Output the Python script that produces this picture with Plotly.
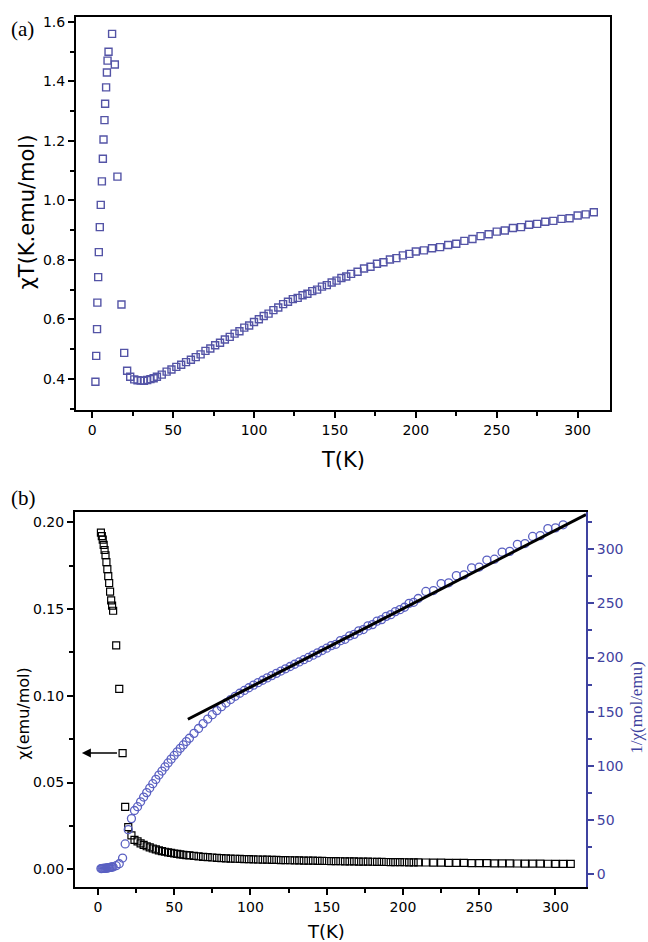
import plotly.graph_objects as go

# ---------------- Panel (a): chiT vs T ----------------
T_a = [2.0, 2.5, 3.0, 3.2, 3.7, 4.1, 4.7, 5.3, 6.0, 6.6, 7.0, 7.6, 8.0, 8.6, 9.1, 9.5, 10.1,
       12.3, 14.0, 15.6, 18.1, 19.8, 21.6, 23.5,
       26, 28, 30, 32, 34, 36, 38, 40, 43, 46, 49, 52, 55, 58, 61, 64, 67, 70, 73, 76, 79,
       82, 85, 88, 91, 94, 97, 100, 103, 106, 109, 112, 115, 118, 121, 124, 127, 130, 133,
       136, 139, 142, 145, 148, 151, 154, 157, 160, 164, 168, 172, 176, 180, 184, 188, 192,
       196, 200, 205, 210, 215, 220, 225, 230, 235, 240, 245, 250, 255, 260, 265, 270, 275,
       280, 285, 290, 295, 300, 305, 310]
chiT_a = [0.390, 0.477, 0.567, 0.656, 0.742, 0.826, 0.910, 0.985, 1.064, 1.140, 1.205, 1.270,
          1.325, 1.380, 1.430, 1.470, 1.500,
          1.560, 1.457, 1.080, 0.650, 0.487, 0.427, 0.407,
          0.398, 0.395, 0.394, 0.393, 0.396, 0.399, 0.402, 0.407, 0.414, 0.424, 0.431, 0.440,
          0.447, 0.456, 0.464, 0.473, 0.482, 0.494, 0.502, 0.513, 0.521,
          0.532, 0.541, 0.552, 0.560, 0.572, 0.579, 0.591, 0.600, 0.611, 0.619, 0.631, 0.640,
          0.651, 0.659, 0.668, 0.672, 0.681, 0.686,
          0.695, 0.700, 0.710, 0.715, 0.724, 0.730, 0.739, 0.744, 0.753, 0.760, 0.771, 0.777,
          0.787, 0.792, 0.801, 0.806, 0.815,
          0.820, 0.828, 0.832, 0.839, 0.843, 0.850, 0.854, 0.864, 0.870, 0.880, 0.886, 0.895,
          0.899, 0.907, 0.910, 0.918, 0.921,
          0.928, 0.931, 0.938, 0.940, 0.949, 0.953, 0.960]

# ---------------- Panel (b): chi and 1/chi vs T ----------------
T_b = [2.0, 2.6, 3.2, 3.8, 4.4, 5.0, 5.6, 6.2, 6.8, 7.4, 8.0, 8.7, 9.3, 10.0,
       12.0, 14.0, 16.2, 17.9, 19.9, 22.0, 24.0,
       26, 28, 30, 32, 34, 36, 38, 40, 42, 44, 46, 48, 50, 52, 54, 56, 58, 60,
       63, 66, 69, 72, 75, 78, 81, 84, 87, 90, 93, 96, 99, 102, 105, 108, 111, 114, 117,
       120, 123, 126, 129, 132, 135, 138, 141, 144, 147, 150, 153, 156, 159, 162, 165, 168,
       171, 174, 177, 180, 183, 186, 189, 192, 195, 198, 201, 204, 207, 210,
       215, 220, 225, 230, 235, 240, 245, 250, 255, 260, 265, 270, 275, 280, 285, 290, 295,
       300, 305, 310]
chi_b = [0.194, 0.192, 0.190, 0.187, 0.184, 0.181, 0.177, 0.173, 0.169, 0.165, 0.160, 0.155,
         0.152, 0.149,
         0.129, 0.104, 0.067, 0.036, 0.0243, 0.0195, 0.0170,
         0.01605, 0.01497, 0.01404, 0.01328, 0.01258, 0.01198, 0.01143, 0.01093, 0.01050,
         0.01010, 0.00974, 0.00942, 0.00912, 0.00886, 0.00861, 0.00838, 0.00817, 0.00797,
         0.00769, 0.00743, 0.00719, 0.00698, 0.00679, 0.00662, 0.00647, 0.00633, 0.00620,
         0.00609, 0.00599, 0.00590, 0.00581, 0.00573, 0.00566, 0.00559, 0.00552, 0.00546,
         0.00539, 0.00533, 0.00527, 0.00522, 0.00516, 0.00511, 0.00505, 0.00500, 0.00495,
         0.00489, 0.00484, 0.00479, 0.00474, 0.00469, 0.00465, 0.00460, 0.00455, 0.00451,
         0.00446, 0.00442, 0.00438, 0.00434, 0.00430, 0.00426, 0.00422, 0.00418, 0.00414,
         0.00410, 0.00407, 0.00403, 0.00400, 0.00396,
         0.00391, 0.00385, 0.00380, 0.00375, 0.00370, 0.00365, 0.00360, 0.00355, 0.00351,
         0.00347, 0.00342, 0.00338, 0.00334, 0.00330, 0.00326, 0.00322, 0.00319, 0.00315,
         0.00311, 0.00308]
inv_chi_b = [5.2, 5.2, 5.3, 5.3, 5.4, 5.5, 5.6, 5.8, 5.9, 6.1, 6.3, 6.5, 6.6, 6.7,
             7.8, 9.6, 14.9, 27.9, 41.1, 51.3, 58.8,
             62.3, 66.8, 71.2, 75.3, 79.5, 83.5, 87.5, 91.5, 95.2, 99.0, 102.7, 106.2, 109.6,
             112.9, 116.2, 119.3, 122.4, 125.5,
             130.0, 134.5, 139.0, 143.2, 147.2, 151.0, 154.6, 158.0, 161.2, 164.2, 167.0,
             169.6, 172.1, 174.5, 176.8, 179.0, 181.2, 183.3, 185.4,
             187.5, 189.6, 191.7, 193.8, 195.9, 198.0, 200.1, 202.2, 204.3, 206.5, 208.6,
             211.0, 212.2, 215.6, 216.8, 220.0, 221.4, 224.6, 225.8, 229.2, 230.4, 233.6,
             235.0, 238.0, 239.6, 242.4, 244.2, 246.4, 250.0, 251.0,
             254.5, 261.0, 261.8, 268.3, 269.0, 275.6, 276.3, 282.8, 283.5, 290.0, 290.8,
             297.3, 298.0, 304.5, 305.2, 311.8, 312.5, 319.0, 319.7, 322.5]

# Curie-Weiss fit line endpoints (T, 1/chi)
fit_T = [59, 320]
fit_inv = [143.0, 332.0]

BLUE_A = "#5454a6"
BLUE_C = "#5a60c2"
BLUE_AX = "#3f43a0"
FONT = "DejaVu Sans"

W, H = 648, 942


def px(x):
    return x / W


def py(y):
    return 1 - y / H


fig = go.Figure()

fig.add_trace(go.Scatter(
    x=T_a, y=chiT_a, mode="markers", xaxis="x", yaxis="y",
    marker=dict(symbol="square-open", size=7, color=BLUE_A, line=dict(width=1.4, color=BLUE_A)),
    showlegend=False))

fig.add_trace(go.Scatter(
    x=T_b, y=inv_chi_b, mode="markers", xaxis="x2", yaxis="y3",
    marker=dict(symbol="circle-open", size=8, color=BLUE_C, line=dict(width=1.3, color=BLUE_C)),
    showlegend=False))

fig.add_trace(go.Scatter(
    x=fit_T, y=fit_inv, mode="lines", xaxis="x2", yaxis="y3",
    line=dict(color="black", width=3), showlegend=False))

fig.add_trace(go.Scatter(
    x=T_b, y=chi_b, mode="markers", xaxis="x2", yaxis="y2",
    marker=dict(symbol="square-open", size=7, color="black", line=dict(width=1.2, color="black")),
    showlegend=False))

tickfont = dict(family=FONT, size=14, color="black")


def xax(domain, anchor, rng):
    return dict(domain=domain, anchor=anchor, range=rng, showline=True, linewidth=2,
                linecolor="black", mirror=True, ticks="outside", ticklen=6, tickwidth=2,
                tickcolor="black", tick0=0, dtick=50, showgrid=False, zeroline=False,
                tickfont=tickfont,
                minor=dict(ticks="outside", ticklen=4, tickwidth=2, tickcolor="black",
                           dtick=25, tick0=0, showgrid=False))


fig.update_layout(
    width=W, height=H, margin=dict(l=0, r=0, t=0, b=0),
    paper_bgcolor="white", plot_bgcolor="white",
    font=dict(family=FONT, size=14, color="black"),
    xaxis=xax([px(76), px(610)], "y", [-10, 320]),
    yaxis=dict(domain=[py(408), py(14)], anchor="x", range=[0.296, 1.617],
               showline=True, linewidth=2, linecolor="black", mirror=True,
               ticks="outside", ticklen=6, tickwidth=2, tickcolor="black",
               tick0=0, dtick=0.2, tickformat=".1f", showgrid=False, zeroline=False,
               tickfont=tickfont,
               minor=dict(ticks="outside", ticklen=4, tickwidth=2, tickcolor="black",
                          dtick=0.1, tick0=0, showgrid=False)),
    xaxis2=xax([px(75), px(586)], "y2", [-15, 320]),
    yaxis2=dict(domain=[py(887), py(511)], anchor="x2", range=[-0.0103, 0.2057],
                showline=True, linewidth=2, linecolor="black",
                ticks="outside", ticklen=6, tickwidth=2, tickcolor="black",
                tick0=0, dtick=0.05, tickformat=".2f", showgrid=False, zeroline=False,
                tickfont=tickfont,
                minor=dict(ticks="outside", ticklen=4, tickwidth=2, tickcolor="black",
                           dtick=0.025, tick0=0, showgrid=False)),
    yaxis3=dict(overlaying="y2", side="right", anchor="x2", range=[-12, 334],
                showline=True, linewidth=2, linecolor=BLUE_AX,
                ticks="outside", ticklen=6, tickwidth=2, tickcolor=BLUE_AX,
                tick0=0, dtick=50, showgrid=False, zeroline=False,
                tickfont=dict(family=FONT, size=14, color=BLUE_AX),
                minor=dict(ticks="outside", ticklen=4, tickwidth=2, tickcolor=BLUE_AX,
                           dtick=25, tick0=0, showgrid=False)),
)


def label(text, x, y, size, family=FONT, color="black", angle=0):
    return dict(text=text, x=px(x), y=py(y), xref="paper", yref="paper",
                xanchor="center", yanchor="middle", showarrow=False, textangle=angle,
                font=dict(family=family, size=size, color=color))


ann = [
    label("(a)", 22, 26, 21, family="Liberation Serif"),
    label("(b)", 23, 497, 21, family="Liberation Serif"),
    label("T(K)", 343, 458, 21),
    label("χT(K.emu/mol)", 27, 210, 21, angle=-90),
    label("T(K)", 326, 931, 18),
    label("χ(emu/mol)", 24, 713, 16, angle=-90),
    label("1/χ(mol/emu)", 637, 707, 17, family="Liberation Serif", color=BLUE_AX, angle=-90),
    # arrow pointing to the left axis
    dict(text="", x=-10.5, y=0.067, xref="x2", yref="y2",
         ax=13.5, ay=0.067, axref="x2", ayref="y2",
         showarrow=True, arrowhead=2, arrowsize=1.2, arrowwidth=1.5, arrowcolor="black"),
]

fig.update_layout(annotations=ann)

# remove the default page margin so the 648x942 figure fills the window exactly
fig.write_html("out.html",
               config={"displayModeBar": False},
               post_script="document.body.style.margin='0';document.body.style.overflow='hidden';")
